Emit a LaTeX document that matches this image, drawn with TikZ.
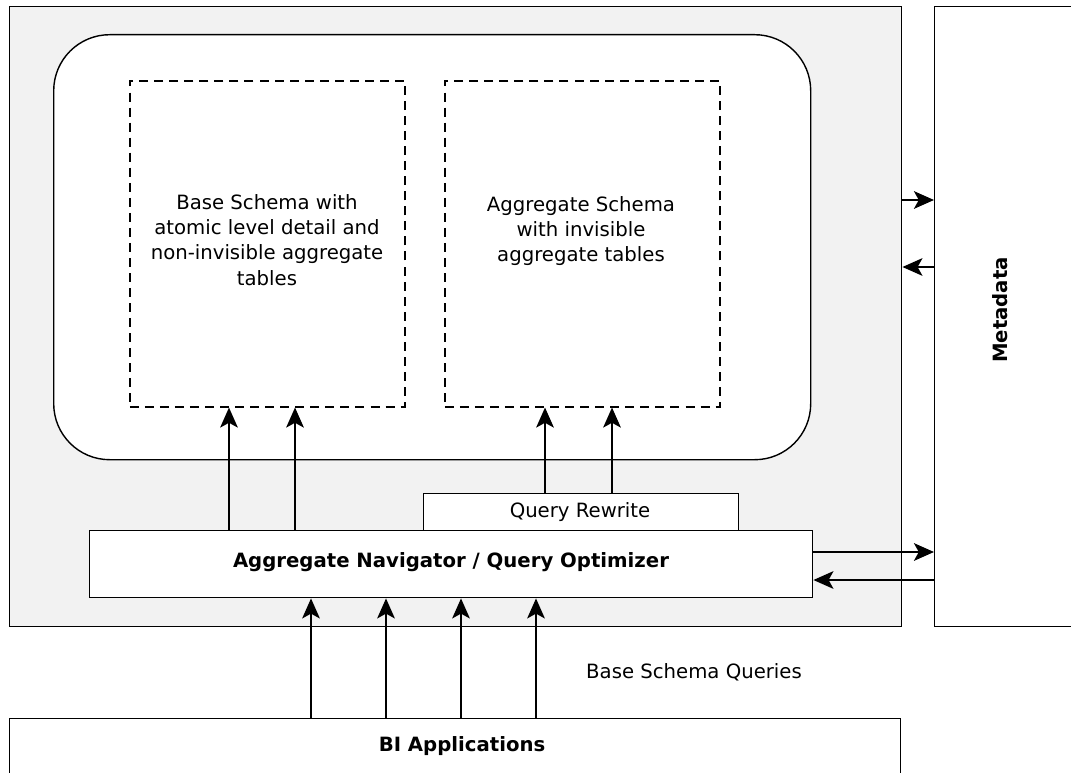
\documentclass[tikz,border=0pt]{standalone}
\usepackage{fontspec}
\setmainfont{DejaVu Sans}
\usetikzlibrary{arrows.meta,positioning}

\begin{document}
\begin{tikzpicture}[x=0.025cm,y=-0.025cm,
  every node/.style={font=\fontsize{14}{18}\selectfont,inner sep=0pt},
  box/.style={draw,line width=1pt,fill=white,anchor=north west},
  schema/.style={box,line width=1.1pt,dash pattern=on 6.4pt off 4.3pt,fill=none},
  arr/.style={-{Stealth[length=5mm,width=4.4mm,inset=1.2mm]},line width=1.6pt}]
  \useasboundingbox (0,0) rectangle (1071,773);
  % outer frames
  \node[box,fill=gray!10,minimum width=892*0.025cm,minimum height=620*0.025cm] (outer) at (9,6) {};
  \node[box,minimum width=150*0.025cm,minimum height=620*0.025cm] (meta) at (934,6) {};
  \node[font=\fontsize{14}{18}\selectfont\bfseries,rotate=90] at (1000,310) {Metadata};
  \node[box,rounded corners=1.4cm,minimum width=757*0.025cm,minimum height=425*0.025cm] (dw) at (53,34) {};
  % schemas
  \node[schema,minimum width=275*0.025cm,minimum height=326*0.025cm] (base) at (129,80) {};
  \node[align=center] at (267,240) {Base Schema with\\atomic level detail and\\non-invisible aggregate\\tables};
  \node[schema,minimum width=275*0.025cm,minimum height=326*0.025cm] (agg) at (444,80) {};
  \node[align=center] at (581,231) {Aggregate Schema\\with invisible\\aggregate tables};
  % navigator
  \node[box,minimum width=315*0.025cm,minimum height=37*0.025cm] (rewrite) at (423,493) {};
  \node at (580,512) {Query Rewrite};
  \node[box,minimum width=723*0.025cm,minimum height=67*0.025cm] (nav) at (89,530) {};
  \node[font=\fontsize{14}{18}\selectfont\bfseries] at (451,562) {Aggregate Navigator / Query Optimizer};
  \node[box,minimum width=891*0.025cm,minimum height=80*0.025cm] (bi) at (9,718) {};
  \node[font=\fontsize{14}{18}\selectfont\bfseries] at (462,746) {BI Applications};
  \node at (694,672) {Base Schema Queries};
  % connectors
  \foreach \xx in {229,295}
    \draw[arr] (\xx,0 |- nav.north) -- (\xx,0 |- base.south);
  \foreach \xx in {545,612}
    \draw[arr] (\xx,0 |- rewrite.north) -- (\xx,0 |- agg.south);
  \foreach \xx in {311,386,461,536}
    \draw[arr] (\xx,0 |- bi.north) -- (\xx,0 |- nav.south);
  \draw[arr] (outer.east |- 0,200) -- (meta.west |- 0,200);
  \draw[arr] (meta.west |- 0,267) -- (outer.east |- 0,267);
  \draw[arr] (nav.east |- 0,552) -- (meta.west |- 0,552);
  \draw[arr] (meta.west |- 0,580) -- (nav.east |- 0,580);
\end{tikzpicture}
\end{document}
